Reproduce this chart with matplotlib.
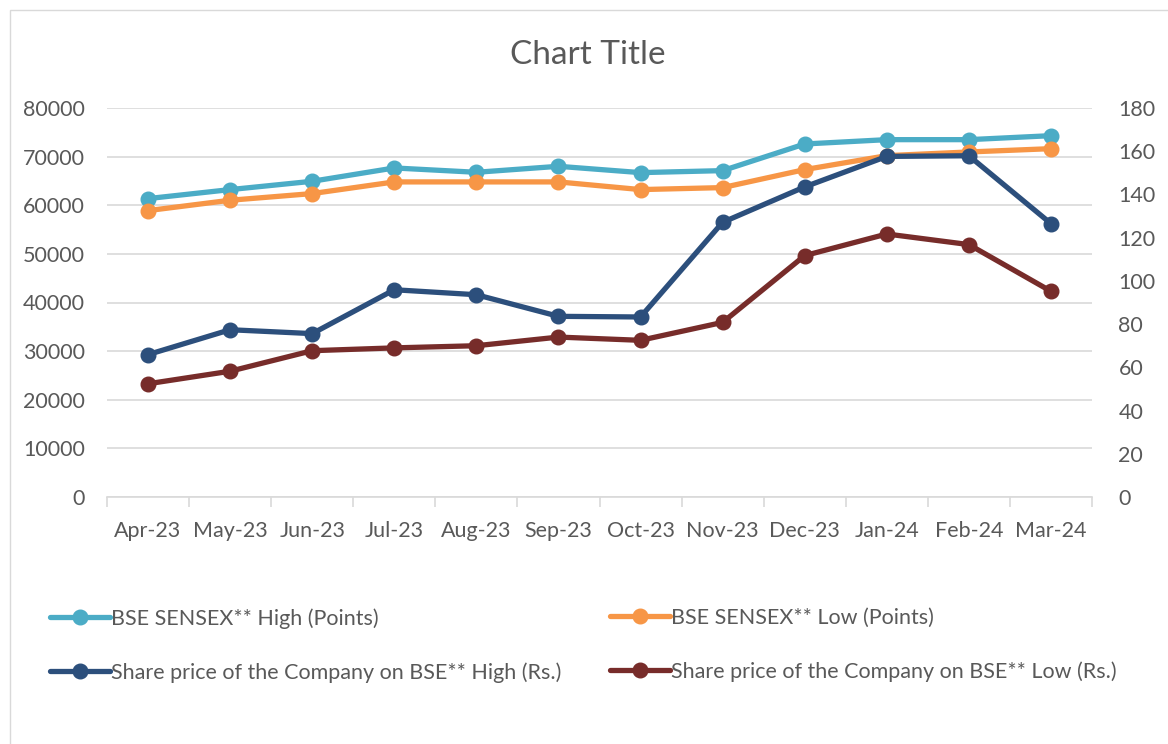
import numpy as np
import matplotlib.pyplot as plt
from matplotlib.patches import Rectangle
from matplotlib.ticker import FixedLocator, NullFormatter

plt.rcParams['font.family'] = ['Lato', 'DejaVu Sans']

months = ['Apr-23', 'May-23', 'Jun-23', 'Jul-23', 'Aug-23', 'Sep-23',
          'Oct-23', 'Nov-23', 'Dec-23', 'Jan-24', 'Feb-24', 'Mar-24']

sensex_high = [61370, 63220, 64930, 67670, 66780, 68010,
               66710, 67120, 72600, 73490, 73490, 74310]
sensex_low = [58900, 61030, 62400, 64800, 64800, 64800,
              63220, 63630, 67330, 70200, 70960, 71640]
share_high = [65.9, 77.4, 75.6, 95.9, 93.6, 83.6,
              83.3, 127.1, 143.5, 157.6, 157.9, 126.5]
share_low = [52.4, 58.2, 67.7, 69.0, 70.0, 74.0,
             72.5, 80.8, 111.7, 121.7, 116.8, 95.2]

names = ['BSE SENSEX** High (Points)', 'BSE SENSEX** Low (Points)',
         'Share price of the Company on BSE** High (Rs.)',
         'Share price of the Company on BSE** Low (Rs.)']
colors = ['#4BACC6', '#F79646', '#2C4F7C', '#772C2A']
txt = '#595959'
fs = 15.5

W, H = 1168, 744
fig = plt.figure(figsize=(W / 100, H / 100), dpi=100)
fig.patches.append(Rectangle((10 / W, -0.1), 1.2, 1 - 10 / H + 0.1,
                             transform=fig.transFigure, fill=False,
                             edgecolor='#d9d9d9', linewidth=1))

ax = fig.add_axes([107 / W, 1 - 497 / H, (1092 - 107) / W, (497 - 108) / H])
ax2 = ax.twinx()

x = np.arange(len(months))
kw = dict(linewidth=3.8, marker='o', markersize=10.5, solid_capstyle='round')
lines = []
lines += ax.plot(x, sensex_high, color=colors[0], label=names[0], **kw)
lines += ax.plot(x, sensex_low, color=colors[1], label=names[1], **kw)
lines += ax2.plot(x, share_high, color=colors[2], label=names[2], **kw)
lines += ax2.plot(x, share_low, color=colors[3], label=names[3], **kw)

ax.set_xlim(-0.5, len(months) - 0.5)
ax.set_ylim(0, 80000)
ax2.set_ylim(0, 180)
ax.set_yticks(np.arange(0, 80001, 10000))
ax2.set_yticks(np.arange(0, 181, 20))
ax.grid(axis='y', color='#d9d9d9', linewidth=1.2)
ax.set_axisbelow(True)

ax.set_xticks(x)
ax.set_xticklabels(months)
ax.xaxis.set_minor_locator(FixedLocator(np.arange(-0.5, len(months), 1)))
ax.xaxis.set_minor_formatter(NullFormatter())
ax.tick_params(axis='x', which='major', length=0, pad=17, labelsize=fs, labelcolor=txt)
ax.tick_params(axis='x', which='minor', length=7, color='#d9d9d9', width=1.2)
ax.tick_params(axis='y', length=0, pad=16, labelsize=fs, labelcolor=txt)
ax2.tick_params(axis='y', length=0, pad=19, labelsize=fs, labelcolor=txt)

for a in (ax, ax2):
    for s in a.spines.values():
        s.set_visible(False)
ax.spines['bottom'].set_visible(True)
ax.spines['bottom'].set_color('#d9d9d9')
ax.spines['bottom'].set_linewidth(1.2)

fig.text(588 / W, 1 - 55 / H, 'Chart Title', ha='center', va='center',
         fontsize=24, color=txt)

leg_kw = dict(loc='upper left', frameon=False, fontsize=fs, labelcolor=txt,
              handlelength=2.8, handletextpad=0.05, labelspacing=1.55,
              borderaxespad=0, borderpad=0)
fig.legend([lines[0], lines[2]], [names[0], names[2]],
           bbox_to_anchor=(50 / W, 1 - 608 / H), **leg_kw)
fig.legend([lines[1], lines[3]], [names[1], names[3]],
           bbox_to_anchor=(610 / W, 1 - 608 / H), **leg_kw)

fig.savefig('out.png', dpi=100)
